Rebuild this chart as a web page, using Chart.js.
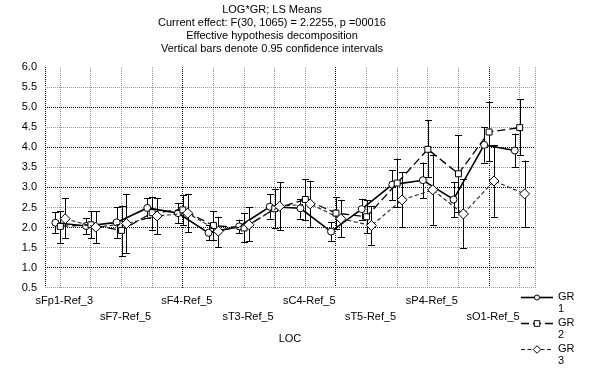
<!DOCTYPE html>
<html><head><meta charset="utf-8">
<script src="https://cdn.jsdelivr.net/npm/chart.js@4"></script>
<style>html,body{margin:0;padding:0;background:#fff}</style>
</head><body>
<canvas id="c" width="595" height="373"></canvas>
<script>
const titleLines = [
  'LOG*GR; LS Means',
  'Current effect: F(30, 1065) = 2.2255, p =00016',
  'Effective hypothesis decomposition',
  'Vertical bars denote 0.95 confidence intervals'
];
const categories = ['sFp1-Ref_3','sFp2-Ref_5','sF7-Ref_5','sF3-Ref_5','sF4-Ref_5','sF8-Ref_5','sT3-Ref_5','sC3-Ref_5',
  'sC4-Ref_5','sT4-Ref_5','sT5-Ref_5','sP3-Ref_5','sP4-Ref_5','sT6-Ref_5','sO1-Ref_5','sO2-Ref_5'];
const yTicks = [0.5,1.0,1.5,2.0,2.5,3.0,3.5,4.0,4.5,5.0,5.5,6.0];
const xAxisTitle = 'LOC';
const seriesNames = ['GR\n1','GR\n2','GR\n3'];

const gr1Mean  = [2.12,2.04,2.13,2.49,2.36,1.87,2.03,2.52,2.48,1.90,2.46,3.07,3.18,2.70,4.06,3.92];
const gr1Lower = [1.87,1.84,1.74,2.25,2.11,1.68,1.86,2.22,2.22,1.67,2.20,2.68,2.73,2.26,3.62,3.50];
const gr1Upper = [2.38,2.23,2.51,2.73,2.60,2.06,2.20,2.83,2.70,2.13,2.72,3.43,3.62,3.14,4.50,4.34];

const gr2Mean  = [2.03,2.07,1.93,2.37,2.44,2.05,1.99,2.47,2.70,2.36,2.27,3.11,3.95,3.34,4.38,4.49];
const gr2Lower = [1.62,1.74,1.30,1.95,2.07,1.69,1.63,1.98,2.18,1.96,1.86,2.51,3.26,2.38,3.65,3.80];
const gr2Upper = [2.41,2.41,2.55,2.77,2.82,2.41,2.36,2.97,3.21,2.76,2.68,3.72,4.67,4.30,5.13,5.20];

const gr3Mean  = [2.22,2.01,2.10,2.29,2.36,1.91,2.07,2.53,2.59,2.22,2.05,2.69,2.94,2.34,3.16,2.84];
const gr3Lower = [1.74,1.62,1.37,1.84,1.88,1.51,1.66,1.93,2.02,1.76,1.57,2.01,2.07,1.48,2.27,2.02];
const gr3Upper = [2.73,2.41,2.84,2.73,2.84,2.27,2.51,3.13,3.17,2.69,2.54,3.38,3.80,3.20,4.05,3.67];

const FONT = 'Liberation Sans, Arial, sans-serif';
Chart.defaults.font.family = FONT;
Chart.defaults.color = '#000';

const offsets = [-0.16, 0, 0.16];
const means = [gr1Mean, gr2Mean, gr3Mean];
const lowers = [gr1Lower, gr2Lower, gr3Lower];
const uppers = [gr1Upper, gr2Upper, gr3Upper];
const styles = [
  {dash: [], width: 1.6, color: '#000', point: 'circle', r: 3.5, lr: 2.5},
  {dash: [8,4], width: 1.3, color: '#000', point: 'rect', r: 4.2, lr: 2.8},
  {dash: [4,2.5], width: 1.1, color: '#222', point: 'rectRot', r: 5, lr: 3.8}
];

const datasets = means.map((m, k) => ({
  label: seriesNames[k],
  data: m.map((v, i) => ({x: i + offsets[k], y: v})),
  borderColor: styles[k].color,
  borderWidth: styles[k].width,
  borderDash: styles[k].dash,
  pointStyle: styles[k].point,
  pointRadius: styles[k].r,
  pointBackgroundColor: '#fff',
  pointBorderColor: '#000',
  pointBorderWidth: 1,
  tension: 0,
  fill: false,
  order: 3 - k
}));

const errorBars = {
  id: 'errorBars',
  beforeDatasetsDraw(chart) {
    const {ctx, scales: {x, y}} = chart;
    ctx.save();
    ctx.strokeStyle = '#000';
    ctx.lineWidth = 1;
    ctx.setLineDash([]);
    means.forEach((m, k) => {
      m.forEach((v, i) => {
        const px = Math.round(x.getPixelForValue(i + offsets[k])) + 0.5;
        const yl = y.getPixelForValue(lowers[k][i]);
        const yu = y.getPixelForValue(uppers[k][i]);
        ctx.beginPath();
        ctx.moveTo(px, yl); ctx.lineTo(px, yu);
        ctx.moveTo(px - 3.5, Math.round(yl) + 0.5); ctx.lineTo(px + 3.5, Math.round(yl) + 0.5);
        ctx.moveTo(px - 3.5, Math.round(yu) + 0.5); ctx.lineTo(px + 3.5, Math.round(yu) + 0.5);
        ctx.stroke();
      });
    });
    ctx.restore();
  }
};

function drawMarkerPath(ctx, style, r, x, y) {
  if (style === 'circle') { ctx.arc(x, y, r, 0, Math.PI * 2); }
  else if (style === 'rect') { ctx.rect(x - r, y - r, 2 * r, 2 * r); }
  else { ctx.moveTo(x, y - r); ctx.lineTo(x + r, y); ctx.lineTo(x, y + r); ctx.lineTo(x - r, y); ctx.closePath(); }
}

const titleAndLegend = {
  id: 'titleAndLegend',
  afterDraw(chart) {
    const ctx = chart.ctx;
    ctx.save();
    ctx.fillStyle = '#000';
    ctx.font = '11px ' + FONT;
    ctx.textAlign = 'center';
    ctx.textBaseline = 'middle';
    titleLines.forEach((t, i) => ctx.fillText(t, 272, 10 + i * 13));
    const ys = [297, 323, 349];
    chart.data.datasets.forEach((ds, k) => {
      const yy = ys[k] + 0.5;
      ctx.strokeStyle = styles[k].color;
      ctx.lineWidth = styles[k].width;
      ctx.setLineDash(styles[k].dash);
      ctx.beginPath(); ctx.moveTo(521, yy); ctx.lineTo(553, yy); ctx.stroke();
      ctx.setLineDash([]);
      ctx.fillStyle = '#fff'; ctx.strokeStyle = '#000'; ctx.lineWidth = 1;
      ctx.beginPath();
      drawMarkerPath(ctx, styles[k].point, styles[k].lr, 537, yy);
      ctx.fill(); ctx.stroke();
      ctx.fillStyle = '#000';
      ctx.textAlign = 'left';
      const parts = ds.label.split('\n');
      ctx.fillText(parts[0], 558, ys[k]);
      ctx.fillText(parts[1], 558, ys[k] + 12);
    });
    ctx.restore();
  }
};

new Chart(document.getElementById('c'), {
  type: 'line',
  data: {datasets},
  plugins: [errorBars, titleAndLegend],
  options: {
    responsive: false,
    animation: false,
    devicePixelRatio: 1,
    layout: {padding: {left: 0, right: 60, top: 67, bottom: 27}},
    plugins: {legend: {display: false}, title: {display: false}, tooltip: {enabled: false}},
    scales: {
      x: {
        type: 'linear', min: -0.5, max: 15.5,
        afterBuildTicks(s) { s.ticks = [-0.5].concat(categories.map((_, i) => i), [15.5]).map(v => ({value: v})); },
        ticks: {
          autoSkip: false, maxRotation: 0, minRotation: 0, padding: 5, labelOffset: 4,
          font: {size: 11, lineHeight: '16px'},
          callback(v) {
            if (!Number.isInteger(v) || v % 2) return '';
            return (v / 2) % 2 === 0 ? [categories[v], ''] : ['', categories[v]];
          }
        },
        grid: {
          drawTicks: false, lineWidth: 1,
          color(c) { const v = c.tick && c.tick.value; return (v === -0.5 || v === 4 || v === 9 || v === 14) ? '#000' : '#999'; }
        },
        border: {display: false, dash: [1, 1]},
        title: {display: true, text: xAxisTitle, font: {size: 11}, padding: {top: 3, bottom: 0}}
      },
      y: {
        min: 0.5, max: 6.0,
        afterBuildTicks(s) { s.ticks = yTicks.map(v => ({value: v})); },
        afterFit(s) { s.width = 45; },
        ticks: {padding: 8, font: {size: 11}, callback: v => Number(v).toFixed(1)},
        grid: {
          drawTicks: false, lineWidth: 1,
          color(c) { const v = c.tick && c.tick.value; if (v === 6) return 'rgba(0,0,0,0)'; return (Number.isInteger(v)) ? '#000' : '#999'; }
        },
        border: {display: false, dash: [1, 1]}
      }
    }
  }
});
</script>
</body></html>
